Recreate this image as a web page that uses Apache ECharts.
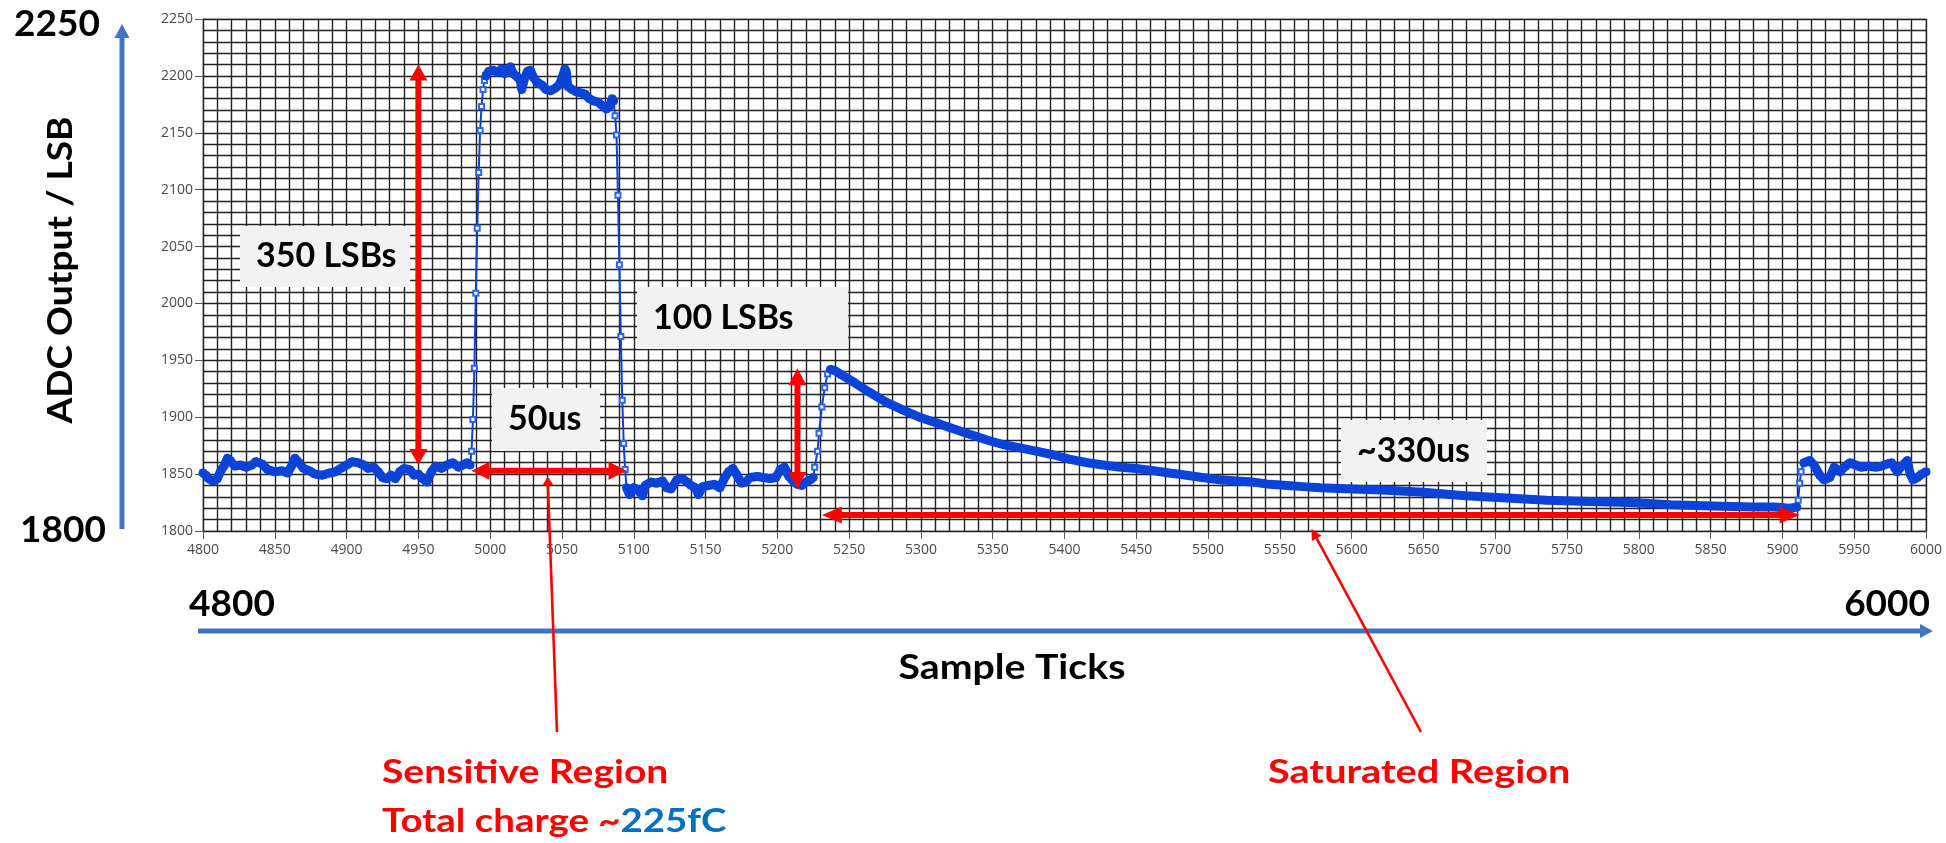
<!DOCTYPE html>
<html>
<head>
<meta charset="utf-8">
<script src="https://cdn.jsdelivr.net/npm/echarts@6/dist/echarts.min.js"></script>
<style>
  html, body { margin: 0; padding: 0; background: #ffffff; }
  #chart { width: 1946px; height: 843px; }
</style>
</head>
<body>
<div id="chart"></div>
<script>
// ---- ADC trace, split into segments (sample tick, ADC output in LSB) ----
const baselineBeforeTicks = [4800,4802,4804,4807,4810,4812,4815,4817,4819,4822,4826,4830,4834,4837,4841,4845,4850,4855,4859,4862,4864,4867,4870,4874,4878,4883,4888,4892,4896,4900,4904,4908,4912,4915,4919,4922,4925,4928,4931,4934,4937,4940,4944,4947,4950,4953,4956,4959,4962,4966,4970,4974,4978,4981,4984,4986];
const baselineBeforeAdc   = [1851,1849,1846,1844,1846,1852,1858,1864,1862,1857,1858,1856,1858,1861,1859,1854,1852,1853,1851,1858,1864,1860,1855,1853,1850,1849,1851,1852,1855,1858,1861,1860,1858,1855,1856,1852,1847,1846,1849,1846,1852,1855,1854,1849,1850,1846,1843,1852,1857,1855,1858,1860,1856,1858,1860,1858];

const pulseRiseTicks = [4987,4988,4989,4990,4991,4992,4993,4994,4995,4996,4997];
const pulseRiseAdc   = [1870,1898,1943,2009,2066,2115,2152,2173,2188,2196,2200];

const pulseTopTicks = [4997,4999,5002,5005,5008,5010,5012,5014,5016,5019,5021,5022,5024,5026,5028,5030,5033,5036,5039,5042,5045,5048,5050,5052,5053,5054,5057,5060,5063,5066,5069,5072,5075,5078,5081,5083,5085,5086];
const pulseTopAdc   = [2200,2204,2205,2203,2206,2202,2205,2208,2202,2199,2196,2188,2198,2204,2205,2199,2194,2192,2188,2187,2189,2192,2198,2206,2204,2191,2188,2186,2185,2184,2180,2178,2177,2174,2171,2173,2180,2178];

const pulseFallTicks = [5087,5088,5089,5090,5091,5092,5093,5094,5095];
const pulseFallAdc   = [2165,2148,2095,2034,1971,1915,1877,1854,1838];

const baselineBetweenTicks = [5095,5097,5100,5103,5106,5108,5112,5116,5120,5123,5126,5130,5134,5137,5140,5143,5145,5148,5152,5156,5160,5163,5166,5169,5172,5175,5178,5181,5186,5190,5195,5199,5202,5205,5208,5211,5214,5217,5220,5223,5225];
const baselineBetweenAdc   = [1838,1832,1838,1836,1831,1840,1843,1842,1844,1838,1837,1845,1846,1843,1840,1838,1832,1839,1840,1841,1838,1846,1852,1855,1849,1842,1843,1847,1848,1847,1846,1847,1854,1856,1848,1844,1841,1840,1843,1845,1847];

const bumpRiseTicks = [5226,5228,5229,5231,5233,5235,5237];
const bumpRiseAdc   = [1856,1870,1886,1909,1926,1938,1942];

const decayTicks = [5237,5240,5245,5253,5264,5276,5288,5299,5311,5322,5334,5346,5357,5369,5381,5392,5404,5416,5427,5439,5450,5462,5473,5485,5496,5508,5520,5531,5543,5555,5566,5578,5600,5621,5650,5679,5708,5736,5765,5794,5822,5851,5880,5894,5905,5910];
const decayAdc   = [1942,1941,1937,1931,1922,1913,1906,1900,1895,1890,1885,1880,1876,1873,1870,1867,1863,1860,1858,1856,1855,1853,1851,1849,1847,1845,1844,1843,1841,1840,1839,1838,1837,1836,1834,1831,1829,1827,1826,1825,1823,1822,1821,1821,1820,1821];

const recoveryRiseTicks = [5911,5912,5913,5915];
const recoveryRiseAdc   = [1827,1842,1852,1860];

const baselineAfterTicks = [5915,5919,5922,5926,5929,5933,5936,5940,5944,5947,5951,5955,5960,5965,5969,5973,5976,5980,5983,5987,5989,5991,5994,5997,6000];
const baselineAfterAdc   = [1860,1862,1858,1849,1845,1847,1856,1852,1857,1860,1858,1856,1857,1856,1857,1859,1860,1852,1857,1862,1850,1845,1847,1850,1852];

// ---- axis range and tick spacing ----
const xRange = [4800, 6000];
const yRange = [1800, 2250];
const tickStep = 50;
const gridStep = 10;

// ---- annotation values (in sample ticks / LSB) ----
const arrow350 = { tick: 4950, from: 1858, to: 2210 };
const arrow50us = { adc: 1853, from: 4987, to: 5095 };
const arrow100 = { tick: 5214, from: 1837, to: 1943 };
const arrow330us = { adc: 1814, from: 5231, to: 5912 };
const sensitivePointTo = [5040, 1848];
const saturatedPointTo = [5572, 1802];

const pairs = (xs, ys) => xs.map((x, i) => [x, ys[i]]);

const segments = [
  pairs(baselineBeforeTicks, baselineBeforeAdc),
  pairs(pulseRiseTicks, pulseRiseAdc),
  pairs(pulseTopTicks, pulseTopAdc),
  pairs(pulseFallTicks, pulseFallAdc),
  pairs(baselineBetweenTicks, baselineBetweenAdc),
  pairs(bumpRiseTicks, bumpRiseAdc),
  pairs(decayTicks, decayAdc),
  pairs(recoveryRiseTicks, recoveryRiseAdc),
  pairs(baselineAfterTicks, baselineAfterAdc)
];
const fullTrace = [].concat(...segments);
const plateauSegments = [segments[0], segments[2], segments[4], segments[6], segments[8]];

const TRACE = '#0B42D8';
const GRID_LINE = { color: '#222222', width: 1.4 };

const chart = echarts.init(document.getElementById('chart'), null, { renderer: 'canvas' });

const axisCommon = (range, margin) => ({
  type: 'value',
  min: range[0],
  max: range[1],
  interval: tickStep,
  axisLine: { show: true, lineStyle: { color: '#222', width: 1 } },
  axisTick: { show: true, length: 8, lineStyle: { color: '#555', width: 1 } },
  axisLabel: { color: '#4a4a4a', fontSize: 14, fontFamily: 'Open Sans', margin: margin,
               formatter: (v) => String(v) },
  splitLine: { show: true, lineStyle: GRID_LINE },
  minorTick: { show: false, splitNumber: tickStep / gridStep },
  minorSplitLine: { show: true, lineStyle: GRID_LINE }
});

const series = [
  {
    type: 'line',
    data: fullTrace,
    z: 2,
    symbol: 'emptyRect',
    symbolSize: 5,
    itemStyle: { color: '#2D63F0', borderWidth: 1.3 },
    lineStyle: { color: TRACE, width: 2 },
    animation: false
  }
].concat(plateauSegments.map(seg => ({
  type: 'line',
  data: seg,
  z: 3,
  symbol: 'none',
  lineStyle: { color: TRACE, width: 9, cap: 'round', join: 'round' },
  animation: false
})));

chart.setOption({
  backgroundColor: '#ffffff',
  animation: false,
  grid: { left: 203, top: 19, width: 1723, height: 512, show: true, borderColor: '#9a9a9a', borderWidth: 1 },
  xAxis: axisCommon(xRange, 12),
  yAxis: axisCommon(yRange, 10),
  series: series
});

// ---- annotation drawing helpers ----
const px = (pt) => chart.convertToPixel({ gridIndex: 0 }, pt);

function arrowShape(p1, p2, shaft, headLen, headW, both) {
  const dx = p2[0] - p1[0], dy = p2[1] - p1[1];
  const len = Math.hypot(dx, dy);
  const ux = dx / len, uy = dy / len;
  const nx = -uy, ny = ux;
  const at = (p, along, side) => [p[0] + ux * along + nx * side, p[1] + uy * along + ny * side];
  const pts = [];
  if (both) {
    pts.push(p1, at(p1, headLen, headW / 2), at(p1, headLen, shaft / 2));
  } else {
    pts.push(at(p1, 0, shaft / 2));
  }
  pts.push(at(p2, -headLen, shaft / 2), at(p2, -headLen, headW / 2), p2,
           at(p2, -headLen, -headW / 2), at(p2, -headLen, -shaft / 2));
  if (both) {
    pts.push(at(p1, headLen, -shaft / 2), at(p1, headLen, -headW / 2));
  } else {
    pts.push(at(p1, 0, -shaft / 2));
  }
  return pts;
}

function arrow(p1, p2, color, shaft, headLen, headW, both, z) {
  return {
    type: 'polygon',
    shape: { points: arrowShape(p1, p2, shaft, headLen, headW, both) },
    style: { fill: color },
    z: z || 100,
    silent: true
  };
}

function textBox(x, y, w, h, text) {
  return [
    { type: 'rect', shape: { x: x, y: y, width: w, height: h }, style: { fill: '#F2F2F2' }, z: 101, silent: true },
    { type: 'text', x: x + 16, y: y + h / 2, z: 102, silent: true,
      style: { text: text, align: 'left', verticalAlign: 'middle', fill: '#000000',
               font: 'bold 34px Lato' } }
  ];
}

function label(text, x, y, size, color, align, extra) {
  return Object.assign({
    type: 'text', x: x, y: y, z: 110, silent: true,
    style: { text: text, align: align || 'left', verticalAlign: 'middle', fill: color || '#000',
             font: 'bold ' + size + 'px Lato' }
  }, extra || {});
}

const RED = '#FF0000';
const AXIS_BLUE = '#4472C4';

const a350 = [px([arrow350.tick, arrow350.from]), px([arrow350.tick, arrow350.to])];
const a50 = [px([arrow50us.from, arrow50us.adc]), px([arrow50us.to, arrow50us.adc])];
const a100 = [px([arrow100.tick, arrow100.from]), px([arrow100.tick, arrow100.to])];
const a330 = [px([arrow330us.from, arrow330us.adc]), px([arrow330us.to, arrow330us.adc])];
const sensTip = px(sensitivePointTo);
const satTip = px(saturatedPointTo);

const graphics = [
  // outer axis arrows
  arrow([122, 529], [122, 24], AXIS_BLUE, 5, 14, 15, false, 90),
  arrow([198, 631], [1933, 631], AXIS_BLUE, 5, 13, 14, false, 90),
  // measurement arrows
  arrow(a350[0], a350[1], RED, 6, 16, 18, true),
  arrow(a50[0], a50[1], RED, 6, 18, 18, true),
  arrow(a100[0], a100[1], RED, 6, 17, 18, true),
  arrow(a330[0], a330[1], RED, 6, 20, 17, true),
  // region pointers
  arrow([557, 732], sensTip, RED, 2.6, 9, 11, false),
  arrow([1421, 732], satTip, RED, 2.6, 11, 11, false)
]
  .concat(textBox(240, 226, 170, 61, '350 LSBs'))
  .concat(textBox(492, 388, 108, 63, '50us'))
  .concat(textBox(637, 287, 211, 62, '100 LSBs'))
  .concat(textBox(1341, 420, 146, 62, '~330us'))
  .concat([
    label('2250', 14, 24, 37, '#000'),
    label('1800', 20, 530, 37, '#000'),
    label('4800', 189, 604, 37, '#000'),
    label('6000', 1930, 604, 37, '#000', 'right'),
    label('ADC Output / LSB', 0, 0, 34, '#000', 'center', { x: 61, y: 270, rotation: Math.PI / 2, scaleX: 1.09 }),
    label('Sample Ticks', 1012, 668, 35, '#000', 'center', { scaleX: 1.12 }),
    label('Sensitive Region', 382, 773, 32, RED, 'left', { scaleX: 1.22 }),
    {
      type: 'text', x: 382, y: 822, z: 110, silent: true, scaleX: 1.2,
      style: {
        text: '{r|Total charge ~}{b|225fC}',
        verticalAlign: 'middle',
        rich: {
          r: { fill: RED, font: 'bold 32px Lato' },
          b: { fill: '#0070C0', font: 'bold 32px Lato' }
        }
      }
    },
    label('Saturated Region', 1268, 773, 32, RED, 'left', { scaleX: 1.24 })
  ]);

chart.setOption({ graphic: graphics });
</script>
</body>
</html>
